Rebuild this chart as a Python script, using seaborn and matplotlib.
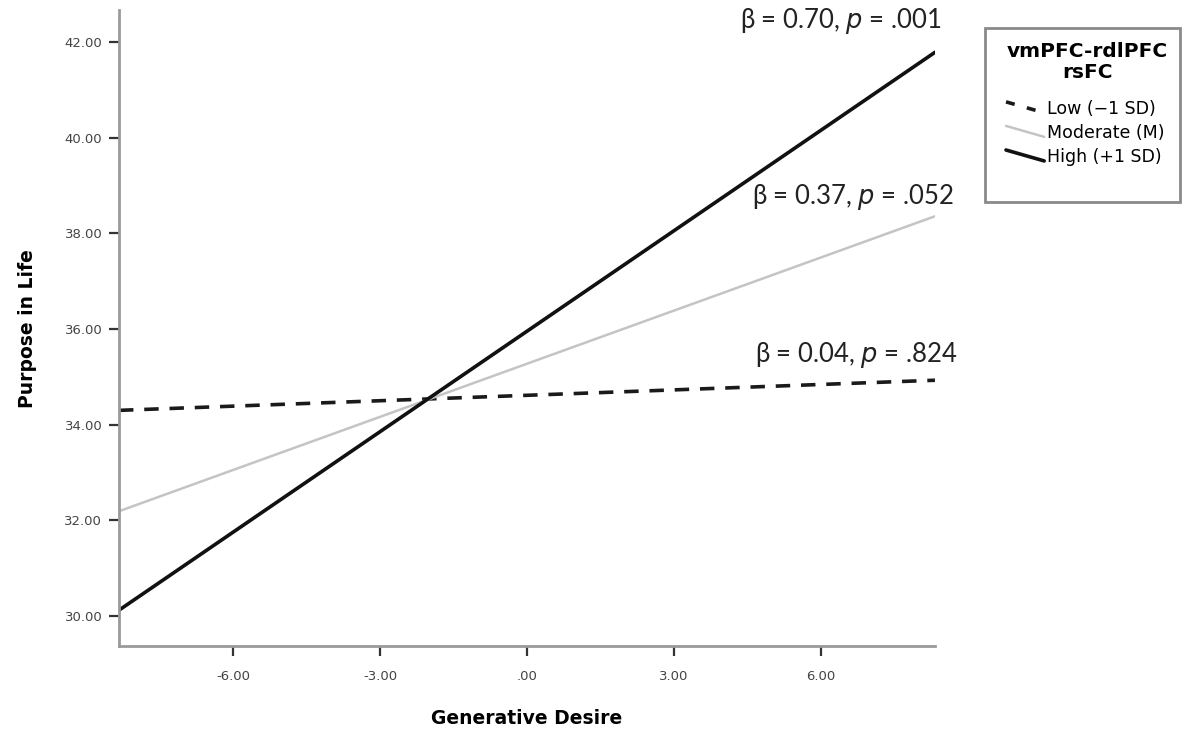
import matplotlib
matplotlib.use('Agg')
import matplotlib.pyplot as plt
import seaborn as sns
import pandas as pd
from matplotlib.lines import Line2D
from matplotlib.patches import Rectangle
from matplotlib.legend_handler import HandlerBase
from matplotlib.ticker import FuncFormatter

sns.set_style("white")
plt.rcParams['font.family'] = ['DejaVu Sans']

# data
gen_desire = [-8.33, 8.33]
low_vals = [34.30, 34.93]
moderate_vals = [32.19, 38.36]
high_vals = [30.12, 41.79]
series_labels = ['Low (\u22121 SD)', 'Moderate (M)', 'High (+1 SD)']
legend_title = 'vmPFC-rdlPFC\nrsFC'
annot_texts = ['\u03b2 = 0.70, $\\it{p}$ = .001',
               '\u03b2 = 0.37, $\\it{p}$ = .052',
               '\u03b2 = 0.04, $\\it{p}$ = .824']
annot_x = [8.45, 8.72, 8.78]
annot_y = [42.45, 38.76, 35.45]
x_ticks = [-6, -3, 0, 3, 6]
y_ticks = [30, 32, 34, 36, 38, 40, 42]


class SlantHandler(HandlerBase):
    # SPSS style legend keys: short line slanting down to the right
    def create_artists(self, legend, orig_handle, xdescent, ydescent,
                       width, height, fontsize, trans):
        line = Line2D([-xdescent, -xdescent + width],
                      [height * 1.0 - ydescent, height * 0.1 - ydescent])
        line.update_from(orig_handle)
        line.set_transform(trans)
        return [line]


fig = plt.figure(figsize=(11.85, 7.30), dpi=100)
ax = fig.add_axes([0.1004, 0.115, 0.6886, 0.871])

styles = [
    dict(color='#1a1a1a', linestyle=(0, (4, 3)), linewidth=2.6),
    dict(color='#c4c4c4', linestyle='-', linewidth=1.8),
    dict(color='#111111', linestyle='-', linewidth=2.6),
]
for vals, st in zip([low_vals, moderate_vals, high_vals], styles):
    df = pd.DataFrame({'x': gen_desire, 'y': vals})
    sns.lineplot(data=df, x='x', y='y', ax=ax, **st)

ax.set_xlim(-8.33, 8.33)
ax.set_ylim(29.37, 42.67)
ax.set_xticks(x_ticks)
ax.set_yticks(y_ticks)

def fmt(v, pos):
    s = f"{v:.2f}"
    if s.startswith('0.'):
        s = s[1:]
    elif s.startswith('-0.'):
        s = '-' + s[2:]
    return s

ax.xaxis.set_major_formatter(FuncFormatter(fmt))
ax.yaxis.set_major_formatter(FuncFormatter(fmt))
ax.tick_params(axis='both', direction='out', length=7, width=1.6, color='#333333',
               labelsize=9.5, labelcolor='#444444', bottom=True, left=True)
ax.tick_params(axis='y', pad=5)
ax.tick_params(axis='x', pad=10)

for side in ['top', 'right']:
    ax.spines[side].set_visible(False)
for side in ['left', 'bottom']:
    ax.spines[side].set_color('#9a9a9a')
    ax.spines[side].set_linewidth(2)

ax.set_xlabel('Generative Desire', fontsize=13.5, fontweight='bold', labelpad=19,
              color='black')
ax.set_ylabel('Purpose in Life', fontsize=13.5, fontweight='bold', labelpad=20,
              color='black')

for txt, xv, yv in zip(annot_texts, annot_x, annot_y):
    ax.text(xv, yv, txt, ha='right', va='center', fontsize=18.5,
            color='#222222', clip_on=False, family=['Lato', 'DejaVu Sans'])

# legend box, title and entries
fig.patches.append(Rectangle((985 / 1185, 1 - 202 / 730), 195 / 1185, 174 / 730,
                             transform=fig.transFigure, facecolor='white',
                             edgecolor='#8a8a8a', linewidth=2))
fig.text(1087 / 1185, 1 - 62 / 730, legend_title, ha='center', va='center',
         fontsize=14.5, fontweight='bold', color='black', linespacing=1.1)
handles = [Line2D([], [], **st) for st in styles]
handles[0].set_linestyle((0, (2.5, 3.5)))
leg = fig.legend(handles, series_labels,
                 loc='upper left', bbox_to_anchor=(1006 / 1185, 1 - 100 / 730),
                 frameon=False, fontsize=12.5, labelcolor='black',
                 handlelength=2.2, handletextpad=0.15, labelspacing=0.35,
                 borderpad=0.0, borderaxespad=0.0,
                 handler_map={Line2D: SlantHandler()})

fig.savefig('out.png', dpi=100)
